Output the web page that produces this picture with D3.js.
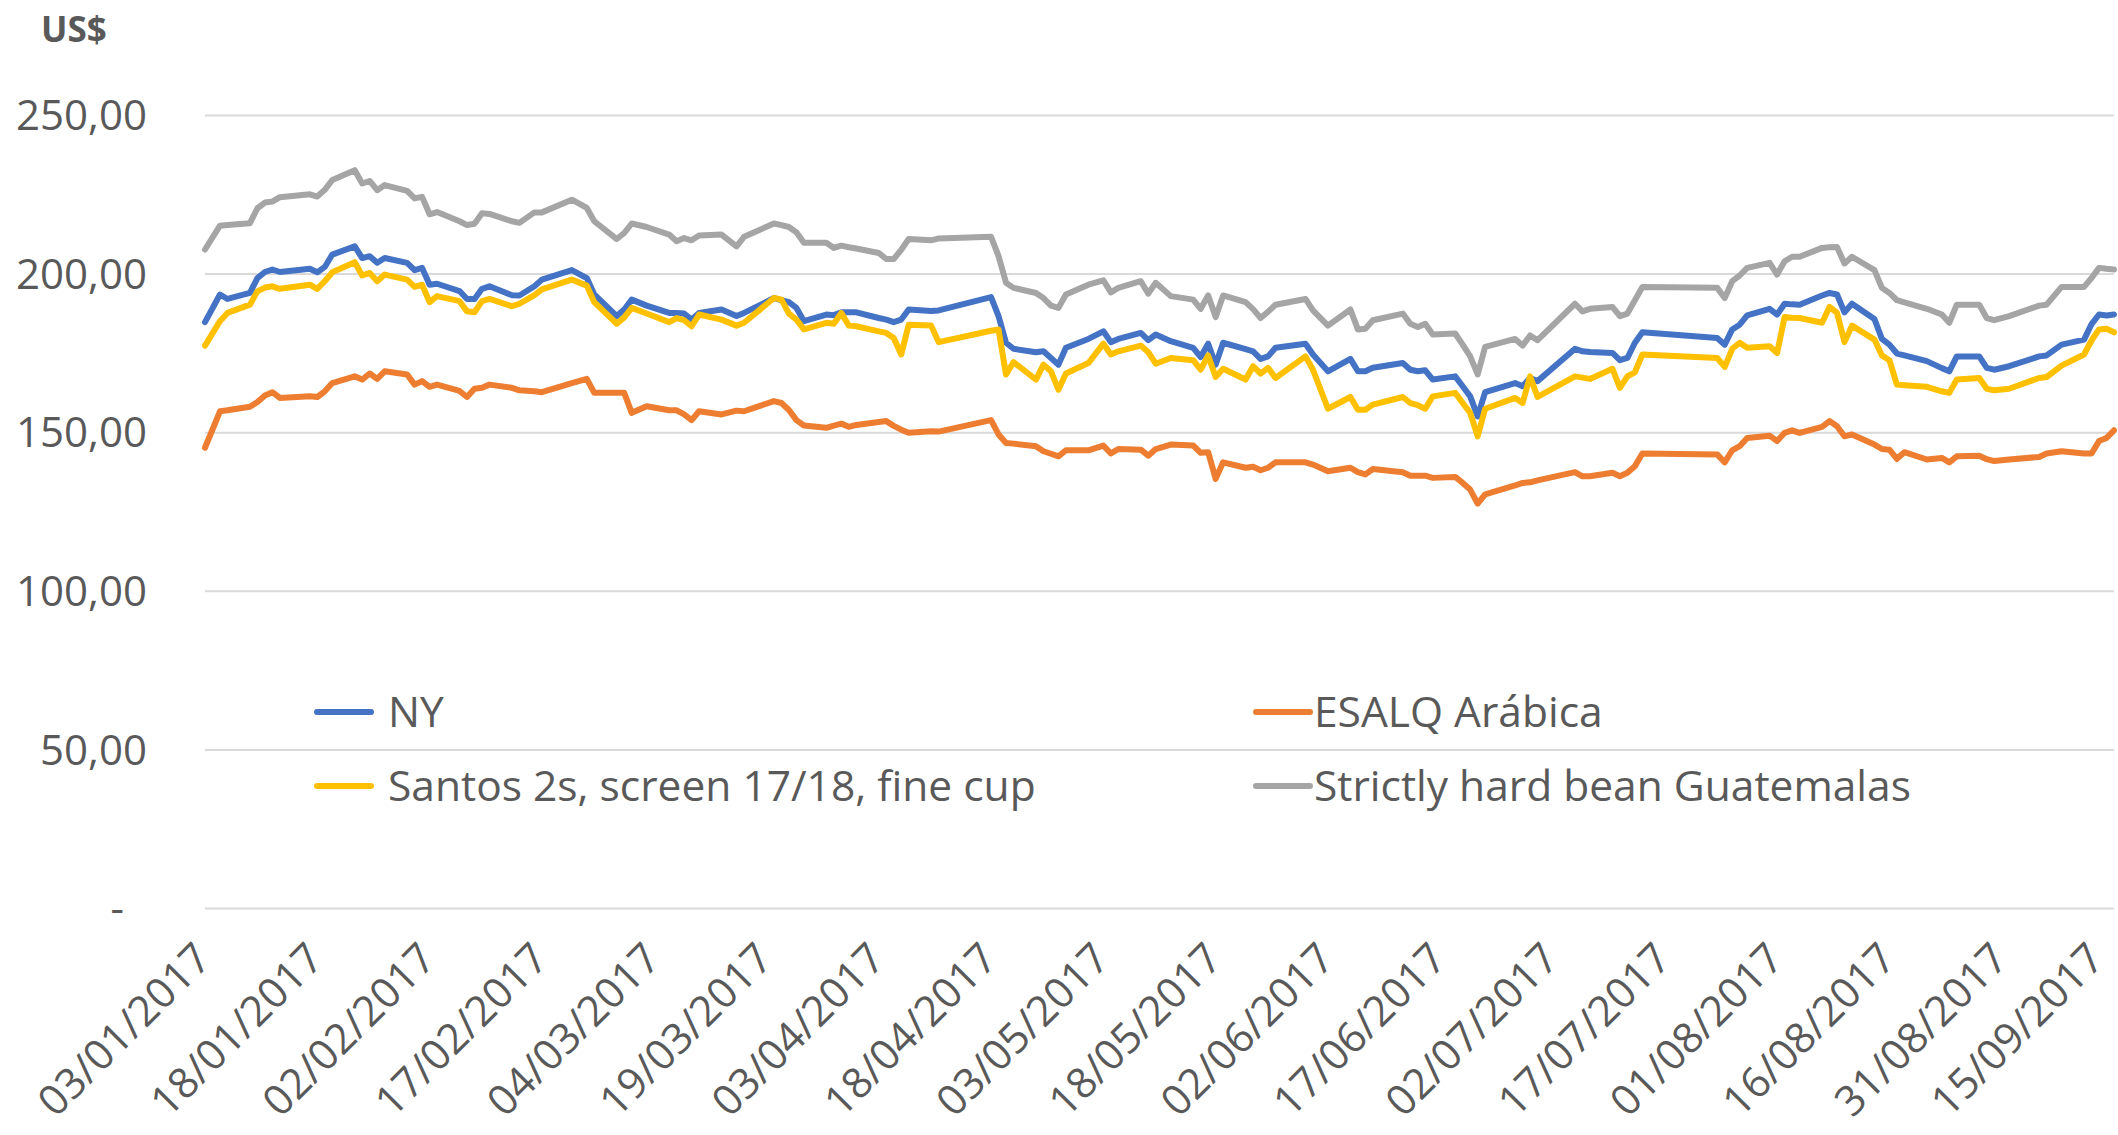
<!DOCTYPE html>
<html lang="pt">
<head>
  <meta charset="UTF-8">
  <title>Preços do café</title>
  <script src="https://cdnjs.cloudflare.com/ajax/libs/d3/7.8.5/d3.min.js"></script>
  <style>
    body { margin: 0; background: #fff; }
    svg { display: block; font-family: "Open Sans", sans-serif; }
  </style>
</head>
<body>
  <script>
    // datas das cotações (dd/mm/aaaa)
    const dates = [
      "03/01/2017","05/01/2017","06/01/2017","09/01/2017","10/01/2017","11/01/2017","12/01/2017","13/01/2017","17/01/2017","18/01/2017","19/01/2017","20/01/2017","23/01/2017","24/01/2017","25/01/2017","26/01/2017","27/01/2017","30/01/2017","31/01/2017",
      "01/02/2017","02/02/2017","03/02/2017","06/02/2017","07/02/2017","08/02/2017","09/02/2017","10/02/2017","13/02/2017","14/02/2017","16/02/2017","17/02/2017","21/02/2017","23/02/2017","24/02/2017","27/02/2017","28/02/2017",
      "01/03/2017","03/03/2017","06/03/2017","07/03/2017","08/03/2017","09/03/2017","10/03/2017","13/03/2017","15/03/2017","16/03/2017","20/03/2017","21/03/2017","22/03/2017","23/03/2017","24/03/2017","27/03/2017","28/03/2017","29/03/2017","30/03/2017","31/03/2017",
      "03/04/2017","04/04/2017","05/04/2017","06/04/2017","07/04/2017","10/04/2017","11/04/2017","18/04/2017","19/04/2017","20/04/2017","21/04/2017","24/04/2017","25/04/2017","26/04/2017","27/04/2017","28/04/2017",
      "01/05/2017","03/05/2017","04/05/2017","05/05/2017","08/05/2017","09/05/2017","10/05/2017","12/05/2017","15/05/2017","16/05/2017","17/05/2017","18/05/2017","19/05/2017","22/05/2017","23/05/2017","24/05/2017","25/05/2017","26/05/2017","30/05/2017","31/05/2017",
      "02/06/2017","05/06/2017","06/06/2017","07/06/2017","08/06/2017","12/06/2017","13/06/2017","14/06/2017","15/06/2017","16/06/2017","19/06/2017","20/06/2017","21/06/2017","22/06/2017","23/06/2017","27/06/2017","28/06/2017","29/06/2017","30/06/2017",
      "05/07/2017","06/07/2017","07/07/2017","10/07/2017","11/07/2017","12/07/2017","13/07/2017","14/07/2017","24/07/2017","25/07/2017","26/07/2017","27/07/2017","28/07/2017","31/07/2017",
      "01/08/2017","02/08/2017","03/08/2017","04/08/2017","07/08/2017","08/08/2017","09/08/2017","10/08/2017","11/08/2017","14/08/2017","15/08/2017","16/08/2017","17/08/2017","18/08/2017","21/08/2017","23/08/2017","24/08/2017","25/08/2017","28/08/2017","29/08/2017","30/08/2017",
      "01/09/2017","05/09/2017","06/09/2017","08/09/2017","11/09/2017","12/09/2017","13/09/2017","14/09/2017","15/09/2017"
    ];

    const ny = [
      184.7,193.4,192.0,193.9,198.6,200.5,201.3,200.5,201.5,200.4,202.1,206.0,208.6,204.9,205.5,203.4,204.9,203.4,201.1,
      201.8,196.5,196.8,194.5,192.0,192.0,195.2,196.0,193.2,193.1,196.0,198.1,201.1,198.6,193.4,186.6,188.7,
      191.8,189.9,187.6,187.6,187.4,185.5,187.6,188.7,186.6,187.6,192.3,191.6,191.0,189.2,185.0,187.1,186.9,187.8,187.8,187.8,
      186.0,185.5,184.7,185.5,188.7,188.2,188.4,192.6,186.6,178.2,176.3,175.2,175.5,173.4,171.3,176.6,
      179.4,181.8,178.4,179.4,181.3,179.0,180.8,178.7,176.6,173.7,177.9,171.3,178.2,176.2,175.5,173.1,173.9,176.6,177.9,174.5,
      169.2,173.1,169.2,169.2,170.3,171.8,169.7,169.2,169.5,166.6,167.6,164.5,161.3,155.0,162.6,165.5,164.5,167.1,166.1,
      176.3,175.5,175.3,175.0,172.7,173.4,178.2,181.5,179.7,177.6,182.4,183.9,186.8,188.9,
      187.1,190.5,190.3,190.2,193.1,193.9,193.4,187.8,190.5,185.7,179.4,177.6,174.8,174.2,172.4,170.2,169.2,173.9,173.9,170.3,169.7,
      170.8,173.9,174.2,177.6,179.2,184.1,187.1,186.8,187.1
    ];

    const esalq = [
      145.1,156.6,156.9,158.0,159.5,161.6,162.6,160.8,161.3,161.1,162.9,165.5,167.6,166.6,168.5,166.8,169.2,168.2,165.0,
      166.1,164.3,165.0,163.0,161.1,163.7,164.0,165.0,164.0,163.2,162.9,162.6,165.5,166.8,162.4,162.4,162.4,
      156.1,158.2,156.9,156.9,155.6,153.8,156.6,155.6,156.8,156.6,159.8,159.2,157.0,153.8,152.1,151.4,152.1,152.7,151.7,152.3,
      153.2,153.5,152.0,150.8,149.8,150.3,150.2,153.8,149.3,146.6,146.4,145.6,144.0,143.2,142.4,144.3,
      144.3,145.8,143.3,144.7,144.5,142.6,144.7,146.1,145.8,143.5,143.7,135.3,140.5,138.8,139.1,138.0,138.8,140.5,140.5,139.8,
      137.7,138.8,137.4,136.7,138.4,137.4,136.3,136.3,136.3,135.6,135.9,134.0,131.9,127.5,130.4,133.2,134.0,134.2,134.8,
      137.4,136.1,136.1,137.2,136.1,137.2,139.3,143.3,143.0,140.5,144.3,145.6,148.2,148.9,
      147.2,149.8,150.6,149.8,151.7,153.5,151.9,148.7,149.3,146.1,144.7,144.5,141.6,143.7,141.4,141.9,140.5,142.4,142.6,141.5,140.9,
      141.4,142.2,143.3,144.0,143.3,143.3,147.2,148.2,150.6
    ];

    const santos = [
      177.3,185.0,187.6,190.2,194.4,195.6,196.0,195.2,196.5,195.2,197.6,200.4,203.6,199.4,200.2,197.6,199.7,198.1,195.8,
      196.5,191.0,192.9,191.3,188.1,187.8,191.3,192.0,189.7,190.5,193.2,195.0,198.1,196.2,191.0,184.2,186.2,
      189.2,187.4,184.7,186.0,185.3,183.4,187.1,185.5,183.6,184.5,192.3,191.8,187.4,185.5,182.4,184.5,184.2,187.6,183.6,183.4,
      181.8,181.3,179.7,174.5,183.9,183.6,178.4,182.0,182.4,168.2,172.1,166.6,171.3,169.2,163.4,168.5,
      171.8,177.9,174.5,175.5,177.3,175.2,171.6,173.4,172.7,169.7,174.2,167.4,170.0,166.6,170.8,168.5,170.3,167.1,173.9,169.7,
      157.4,161.1,157.1,157.1,158.7,161.1,159.2,158.5,157.4,161.3,162.4,159.2,156.1,148.7,157.4,160.8,159.2,167.6,161.1,
      167.6,167.2,166.8,170.0,164.0,167.6,168.9,174.5,173.4,170.6,176.3,178.2,176.6,177.1,
      175.0,186.3,186.1,186.0,184.5,189.5,187.6,178.4,183.6,179.2,174.2,172.7,165.0,164.8,164.3,162.9,162.4,166.6,167.1,163.7,163.2,
      163.7,167.1,167.4,171.0,174.5,178.9,182.4,182.6,181.5
    ];

    const guatemala = [
      207.6,215.1,215.3,215.9,220.6,222.4,222.7,224.1,225.0,224.3,226.4,229.5,232.6,228.4,229.2,226.3,227.9,226.1,223.7,
      224.2,218.7,219.4,216.5,215.3,215.7,219.0,218.8,216.5,216.0,219.3,219.3,223.3,220.7,216.5,210.9,212.8,
      215.8,214.7,212.3,210.2,211.2,210.5,212.0,212.3,208.6,211.6,215.8,215.3,214.7,213.0,209.7,209.7,208.1,208.8,208.3,207.9,
      206.5,204.6,204.6,207.5,210.9,210.5,211.1,211.6,205.5,197.1,195.5,193.9,192.3,189.9,189.2,193.4,
      196.5,197.9,194.1,195.5,197.6,193.7,197.1,192.9,191.8,188.9,193.1,186.3,193.1,191.0,188.8,186.0,188.0,190.2,192.0,188.4,
      183.6,188.7,182.4,182.6,185.3,187.4,184.2,183.2,184.2,180.8,181.1,177.6,173.9,168.2,176.9,179.4,177.3,180.5,179.0,
      190.5,188.1,188.9,189.5,186.6,187.4,191.6,195.8,195.5,192.3,197.6,199.4,201.8,203.4,
      199.7,203.9,205.3,205.3,208.1,208.3,208.4,203.2,205.3,201.1,195.5,193.9,191.6,190.9,188.9,187.1,184.5,190.2,190.2,186.0,185.3,
      186.6,189.9,190.2,195.8,195.8,198.6,201.8,201.5,201.3
    ];

    const seriesNames = ["NY", "ESALQ Arábica", "Santos 2s, screen 17/18, fine cup", "Strictly hard bean Guatemalas"];
    const seriesColors = ["#4472C4", "#ED7D31", "#FFC000", "#A5A5A5"];

    const xTickLabels = ["03/01/2017","18/01/2017","02/02/2017","17/02/2017","04/03/2017","19/03/2017","03/04/2017","18/04/2017","03/05/2017",
      "18/05/2017","02/06/2017","17/06/2017","02/07/2017","17/07/2017","01/08/2017","16/08/2017","31/08/2017","15/09/2017"];
    const yTickValues = [0, 50, 100, 150, 200, 250];
    const yTickLabels = ["-", "50,00", "100,00", "150,00", "200,00", "250,00"];

    const width = 2118, height = 1135;
    const plotLeft = 205, plotRight = 2114, plotTop = 115, plotBottom = 908;
    const textColor = "#595959";
    const fontFamily = "'Open Sans', sans-serif";

    const parse = d3.timeParse("%d/%m/%Y");
    const dateObjs = dates.map(parse);
    const allSeries = [ny, esalq, santos, guatemala];

    const svg = d3.select("body")
      .append("svg")
      .attr("width", width)
      .attr("height", height)
      .attr("font-family", fontFamily);

    const x = d3.scaleTime()
      .domain([parse(xTickLabels[0]), parse(xTickLabels[xTickLabels.length - 1])])
      .range([plotLeft, plotRight]);

    const y = d3.scaleLinear()
      .domain([0, 250])
      .range([plotBottom, plotTop]);

    // eixo y + linhas de grade
    const yAxis = d3.axisLeft(y)
      .tickValues(yTickValues)
      .tickSize(-(plotRight - plotLeft))
      .tickPadding(0)
      .tickFormat((d, i) => yTickLabels[i]);

    const gy = svg.append("g")
      .attr("transform", `translate(${plotLeft},0)`)
      .call(yAxis)
      .attr("font-family", fontFamily)
      .attr("font-size", 42);
    gy.select(".domain").remove();
    gy.selectAll(".tick line").attr("stroke", "#D9D9D9").attr("stroke-width", 2);
    gy.selectAll(".tick text")
      .attr("x", d => d === 0 ? -81 : -58)
      .attr("dy", "0.35em")
      .attr("fill", textColor);

    // eixo x com datas inclinadas
    const xAxis = d3.axisBottom(x)
      .tickValues(xTickLabels.map(parse))
      .tickSize(0)
      .tickFormat((d, i) => xTickLabels[i]);

    const gx = svg.append("g")
      .attr("transform", `translate(0,${plotBottom})`)
      .call(xAxis)
      .attr("font-family", fontFamily)
      .attr("font-size", 42);
    gx.select(".domain").remove();
    const lastTick = xTickLabels.length - 1;
    gx.selectAll(".tick text")
      .attr("text-anchor", "end")
      .attr("fill", textColor)
      .attr("x", 0).attr("y", 0).attr("dy", null)
      // a última data encosta na borda direita
      .attr("transform", (d, i) => `translate(${i === lastTick ? -8 : 8},53) rotate(-45)`);

    // linhas das séries
    const line = d3.line()
      .x((d, i) => x(dateObjs[i]))
      .y(d => y(d));

    svg.append("g")
      .selectAll("path")
      .data(allSeries)
      .enter()
      .append("path")
      .attr("d", d => line(d))
      .attr("fill", "none")
      .attr("stroke", (d, i) => seriesColors[i])
      .attr("stroke-width", 6)
      .attr("stroke-linejoin", "round")
      .attr("stroke-linecap", "round");

    // título do eixo
    svg.append("text")
      .attr("x", 41)
      .attr("y", 42)
      .attr("font-size", 35)
      .attr("font-weight", "bold")
      .attr("fill", textColor)
      .text("US$");

    // legenda (2 colunas)
    const legendPos = [[317, 712], [1256, 712], [317, 786], [1256, 786]];
    const legend = svg.append("g")
      .selectAll("g")
      .data(seriesNames)
      .enter()
      .append("g")
      .attr("transform", (d, i) => `translate(${legendPos[i][0]},${legendPos[i][1]})`);

    legend.append("line")
      .attr("x1", 0).attr("x2", 54)
      .attr("y1", 0).attr("y2", 0)
      .attr("stroke", (d, i) => seriesColors[i])
      .attr("stroke-width", 6)
      .attr("stroke-linecap", "round");

    legend.append("text")
      .attr("x", (d, i) => i % 2 === 0 ? 71 : 58)
      .attr("dy", "0.35em")
      .attr("font-size", 42.5)
      .attr("fill", textColor)
      .text(d => d);
  </script>
</body>
</html>
